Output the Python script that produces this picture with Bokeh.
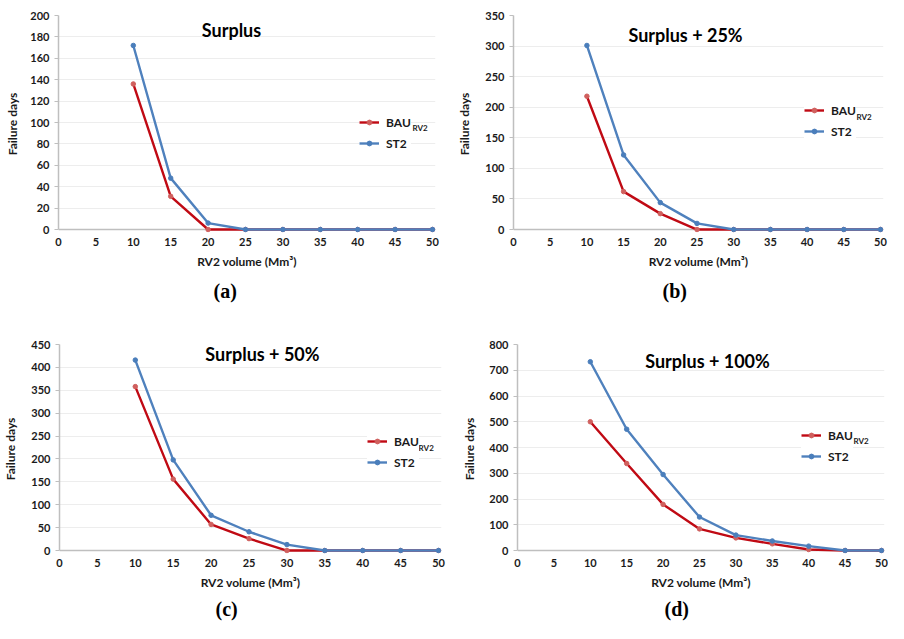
from bokeh.plotting import figure
from bokeh.layouts import row, column
from bokeh.models import Range1d, FixedTicker, Legend, LegendItem, Label, Title, Span
from bokeh.embed import file_html
from bokeh.resources import INLINE

# ---------------- data ----------------
volumes = [10, 15, 20, 25, 30, 35, 40, 45, 50]
x_ticks = [0, 5, 10, 15, 20, 25, 30, 35, 40, 45, 50]

bau_a = [136, 31, 0, 0, 0, 0, 0, 0, 0]
st2_a = [172, 48, 6, 0, 0, 0, 0, 0, 0]
bau_b = [218, 62, 26, 0, 0, 0, 0, 0, 0]
st2_b = [301, 122, 44, 10, 0, 0, 0, 0, 0]
bau_c = [358, 156, 57, 26, 0, 0, 0, 0, 0]
st2_c = [416, 198, 77, 41, 13, 0, 0, 0, 0]
bau_d = [500, 338, 179, 84, 49, 26, 4, 0, 0]
st2_d = [733, 471, 295, 130, 60, 37, 17, 0, 0]

panel_titles = ["Surplus", "Surplus + 25%", "Surplus + 50%", "Surplus + 100%"]
captions = ["(a)", "(b)", "(c)", "(d)"]
y_max = [200, 350, 450, 800]
y_step = [20, 50, 50, 100]
bau_series = [bau_a, bau_b, bau_c, bau_d]
st2_series = [st2_a, st2_b, st2_c, st2_d]

legend_bau = "BAU"
legend_bau_sub = "RV2"
legend_st2 = "ST2"
x_label = "RV2 volume (Mm³)"
y_label = "Failure days"

# ---------------- layout (pixels) ----------------
layouts = [
    dict(W=446, H=308, L=58, R=11, T=15, B=76, ylab=7, title=(173, 200), legend=(301, 77),
         sub=53, cap_off=155, cap_stand=13),
    dict(W=442, H=308, L=67, R=5, T=13, B=76, ylab=10, title=(172, 196), legend=(291, 89),
         sub=52, cap_off=149, cap_stand=13),
    dict(W=446, H=315, L=57, R=5, T=34, B=69, ylab=10, title=(204, 199), legend=(308, 79),
         sub=53, cap_off=156, cap_stand=7),
    dict(W=442, H=315, L=71, R=4, T=36, B=69, ylab=9, title=(190, 190), legend=(284, 85),
         sub=52, cap_off=147, cap_stand=7),
]

FONT = "Lato"
TXT = "#1a1a1a"
RED_LINE = "#c00a14"
RED_MARK = "#d0605e"
BLUE_LINE = "#4f81bd"
BLUE_MARK = "#4a7ebb"
AXIS_COL = "#bfbfbf"
GRID_COL = "#ededed"
PAD = 3  # pixel room so edge markers are not clipped


def make_panel(i):
    lay = layouts[i]
    fw = lay["W"] - lay["L"] - lay["R"]
    fh = lay["H"] - lay["T"] - lay["B"]
    ymax = y_max[i]
    x_end = 50 * fw / (fw - PAD)
    y_start = -PAD * ymax / (fh - PAD)
    sx = 50 / (fw - PAD)       # data per pixel (x)
    sy = ymax / (fh - PAD)     # data per pixel (y)

    p = figure(width=lay["W"], height=lay["H"], output_backend="svg", toolbar_location=None,
               x_range=Range1d(0, x_end), y_range=Range1d(y_start, ymax),
               min_border_left=lay["L"], min_border_right=lay["R"],
               min_border_top=lay["T"], min_border_bottom=lay["B"])
    p.outline_line_color = None
    p.background_fill_color = "white"
    p.border_fill_color = "white"

    # axes
    p.xaxis.ticker = FixedTicker(ticks=x_ticks)
    p.yaxis.ticker = FixedTicker(ticks=list(range(0, ymax + 1, y_step[i])))
    p.yaxis.bounds = (0, ymax)
    for ax in (p.xaxis[0], p.yaxis[0]):
        ax.axis_line_color = AXIS_COL
        ax.axis_line_width = 1.5
        ax.major_tick_line_color = AXIS_COL
        ax.minor_tick_line_color = None
        ax.major_label_text_font = FONT
        ax.major_label_text_font_style = "bold"
        ax.major_label_text_font_size = "11px"
        ax.major_label_text_color = TXT
        ax.axis_label_text_font = FONT
        ax.axis_label_text_font_style = "bold"
        ax.axis_label_text_font_size = "12px"
        ax.axis_label_text_color = TXT
    p.xaxis.axis_line_color = None
    p.xaxis.major_tick_line_color = None
    p.xaxis.major_tick_in = 0
    p.xaxis.major_tick_out = 0
    p.xaxis.major_label_standoff = 5
    p.xaxis.axis_label_standoff = 5
    p.yaxis.major_tick_in = 0
    p.yaxis.major_tick_out = 4
    p.yaxis.major_label_standoff = 5
    p.yaxis.axis_label_standoff = lay["ylab"]
    p.xaxis.axis_label = x_label
    p.yaxis.axis_label = y_label
    p.xgrid.visible = False
    p.ygrid.grid_line_color = GRID_COL
    p.ygrid.grid_line_width = 1
    # horizontal axis line at zero
    p.add_layout(Span(location=0, dimension="width", line_color=AXIS_COL,
                      line_width=1.5, level="underlay"))

    # series
    l_b = p.line(volumes, bau_series[i], line_color=RED_LINE, line_width=2.4)
    s_b = p.scatter(volumes, bau_series[i], size=4.5, fill_color=RED_MARK, line_color=RED_MARK)
    l_s = p.line(volumes, st2_series[i], line_color=BLUE_LINE, line_width=2.4)
    s_s = p.scatter(volumes, st2_series[i], size=4.5, fill_color=BLUE_MARK, line_color=BLUE_MARK)

    # legend
    lx, ly = lay["legend"]
    leg = Legend(items=[LegendItem(label=legend_bau, renderers=[l_b, s_b]),
                        LegendItem(label=legend_st2, renderers=[l_s, s_s])],
                 location=(lx, ly + PAD), orientation="vertical",
                 padding=4, margin=0, spacing=3, glyph_width=20, glyph_height=12,
                 label_height=18, label_standoff=7,
                 label_text_font=FONT, label_text_font_style="bold",
                 label_text_font_size="12px", label_text_color=TXT,
                 border_line_color=None, background_fill_color="white",
                 background_fill_alpha=1.0)
    p.add_layout(leg)
    sub_px = lx + lay["sub"]
    sub_py = ly + 25
    p.add_layout(Label(x=sub_px * sx, y=sub_py * sy, text=legend_bau_sub,
                       text_font=FONT, text_font_style="bold", text_font_size="8px",
                       text_color=TXT, text_align="left", text_baseline="middle"))

    # panel title inside frame
    tx, ty = lay["title"]
    p.add_layout(Label(x=tx * sx, y=ty * sy, text=panel_titles[i],
                       text_font=FONT, text_font_style="bold", text_font_size="18px",
                       text_color="black", text_align="center", text_baseline="middle"))

    # caption below
    p.add_layout(Title(text=captions[i], align="left", offset=lay["cap_off"],
                       standoff=lay["cap_stand"], text_font="Liberation Serif",
                       text_font_style="bold", text_font_size="20px", text_color="black"),
                 "below")
    return p


panels = [make_panel(i) for i in range(4)]
page = column(row(panels[0], panels[1]), row(panels[2], panels[3]))

open("out.html", "w").write(file_html(page, INLINE))
